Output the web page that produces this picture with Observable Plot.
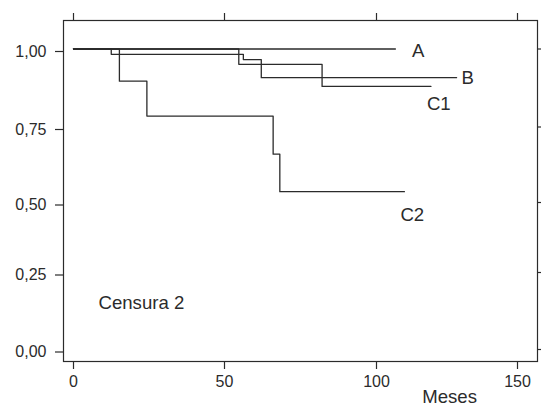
<!DOCTYPE html>
<html>
<head>
<meta charset="utf-8">
<script src="https://cdn.jsdelivr.net/npm/d3@7"></script>
<script src="https://cdn.jsdelivr.net/npm/@observablehq/plot@0.6"></script>
<style>
  html, body { margin: 0; padding: 0; background: #fff; }
  #chart svg { display: block; }
</style>
</head>
<body>
<div id="chart"></div>
<script>
// Kaplan–Meier curves (months, survival) for each group
const groups = ["A", "B", "C1", "C2"];
const monthsA = [0, 106.7];
const survA   = [1.0, 1.0];
const monthsB = [0, 54.7, 56.2, 62.1, 128.4];
const survB   = [1.0, 0.983, 0.966, 0.908, 0.908];
const monthsC1 = [0, 12.5, 54.7, 82.1, 119.3];
const survC1   = [1.0, 0.983, 0.951, 0.880, 0.880];
const monthsC2 = [0, 15.2, 24.3, 66.0, 68.2, 109.9];
const survC2   = [1.0, 0.897, 0.785, 0.660, 0.536, 0.536];

const xTicks = [0, 50, 100, 150];
const yTicks = [0, 0.25, 0.5, 0.75, 1.0];
const annotation = "Censura 2";
const xLabel = "Meses";

const series = {A: [monthsA, survA], B: [monthsB, survB], C1: [monthsC1, survC1], C2: [monthsC2, survC2]};
const rows = groups.flatMap(g => series[g][0].map((m, i) => ({group: g, month: m, surv: series[g][1][i]})));
const ends = groups.map(g => {
  const [m, s] = series[g];
  return {group: g, month: m[m.length - 1], surv: s[s.length - 1]};
});

// label offsets (styling) relative to each curve's end
const labelOffsets = {A: [16.5, 8], B: [5, 6], C1: [-4, 24], C2: [-4, 29.5]};

const ink = "#2b2b2b";
const font = "'Liberation Sans', Arial, Helvetica, sans-serif";
const fmt = d => d.toFixed(2).replace(".", ",");

const chart = Plot.plot({
  width: 541,
  height: 406,
  marginLeft: 63,
  marginRight: 4,
  marginTop: 20,
  marginBottom: 45,
  style: {fontFamily: font, color: ink, background: "#fff", overflow: "visible"},
  x: {type: "linear", domain: [0, 50, 100, 150], range: [73, 224, 376, 517]},
  y: {type: "linear", domain: [0, 0.25, 0.5, 0.75, 1], range: [349, 272, 202, 126.5, 48.5]},
  marks: [
    Plot.frame({stroke: ink, strokeWidth: 1.2}),
    Plot.axisX({anchor: "bottom", ticks: xTicks, tickSize: 8, tickPadding: 6, label: null, fontSize: 16, stroke: ink, strokeWidth: 1.2}),
    Plot.axisX({anchor: "top", ticks: xTicks, tickSize: 8, label: null, text: null, stroke: ink, strokeWidth: 1.2}),
    Plot.axisY({anchor: "left", ticks: yTicks, tickSize: 8, tickPadding: 9, tickFormat: fmt, label: null, fontSize: 16, dy: 2.5, stroke: ink, strokeWidth: 1.2}),
    Plot.axisY({anchor: "right", ticks: yTicks, tickSize: 8, label: null, text: null, stroke: ink, strokeWidth: 1.2}),
    Plot.line(rows, {x: "month", y: "surv", z: "group", curve: "step-after", stroke: ink, strokeWidth: 1.3}),
    ...groups.map(g => Plot.text(ends.filter(d => d.group === g), {
      x: "month", y: "surv", text: "group", textAnchor: "start", lineAnchor: "bottom",
      dx: labelOffsets[g][0], dy: labelOffsets[g][1], fontSize: 18.6, fill: ink
    })),
    Plot.text([annotation], {frameAnchor: "bottom-left", textAnchor: "start", lineAnchor: "bottom", dx: 35, dy: -53, fontSize: 18.6, fill: ink}),
    Plot.text([xLabel], {frameAnchor: "bottom-right", textAnchor: "end", lineAnchor: "bottom", dx: -60.5, dy: 41, fontSize: 18.6, fill: ink})
  ]
});
document.getElementById("chart").appendChild(chart);
</script>
</body>
</html>
